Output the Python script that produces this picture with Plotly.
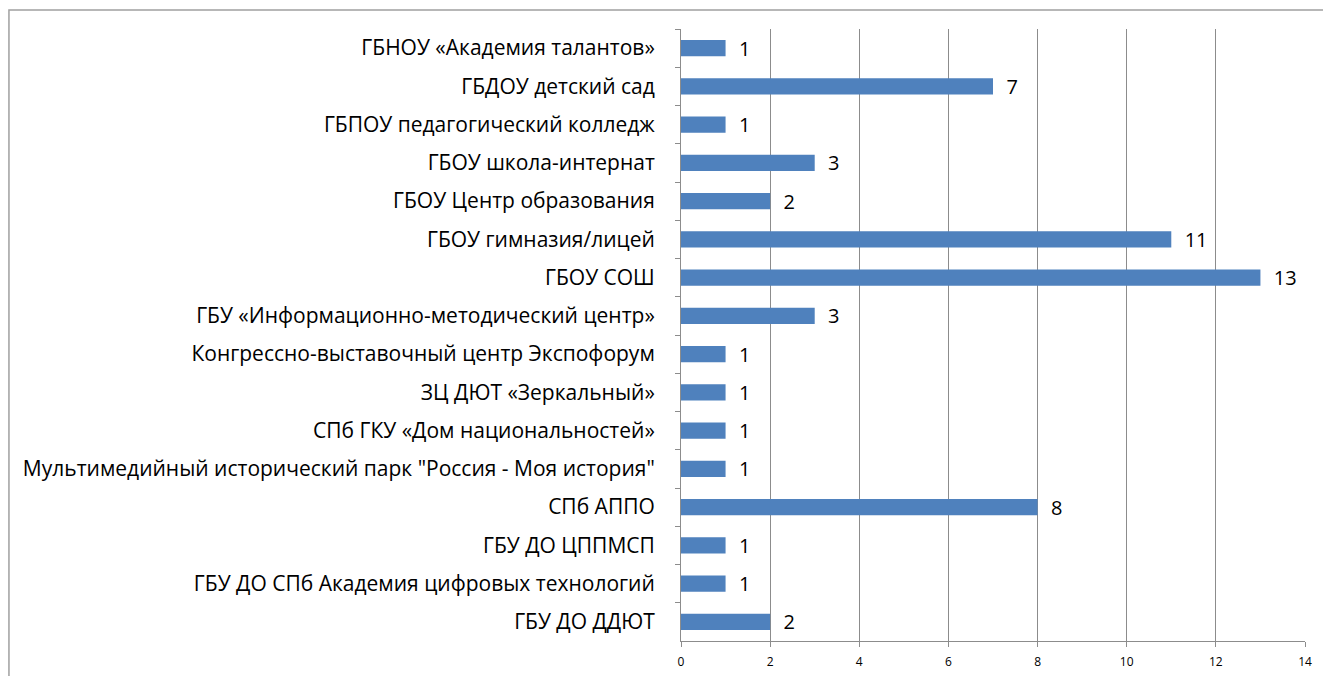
import plotly.graph_objects as go

categories = [
    "ГБНОУ «Академия талантов»",
    "ГБДОУ детский сад",
    "ГБПОУ педагогический колледж",
    "ГБОУ школа-интернат",
    "ГБОУ Центр образования",
    "ГБОУ гимназия/лицей",
    "ГБОУ СОШ",
    "ГБУ «Информационно-методический центр»",
    "Конгрессно-выставочный центр Экспофорум",
    "ЗЦ ДЮТ «Зеркальный»",
    "СПб ГКУ «Дом национальностей»",
    "Мультимедийный исторический парк \"Россия - Моя история\"",
    "СПб АППО",
    "ГБУ ДО ЦППМСП",
    "ГБУ ДО СПб Академия цифровых технологий",
    "ГБУ ДО ДДЮТ",
]
values = [1, 7, 1, 3, 2, 11, 13, 3, 1, 1, 1, 1, 8, 1, 1, 2]
x_ticks = [0, 2, 4, 6, 8, 10, 12, 14]

FONT = "'Open Sans', 'Noto Sans', sans-serif"

fig = go.Figure(go.Bar(
    y=categories,
    x=values,
    orientation="h",
    width=0.42,
    marker=dict(color="#4F81BD", line=dict(color="#4F81BD", width=0)),
    text=[f"\u00a0\u00a0{v}" for v in values],
    textposition="outside",
    constraintext="none",
    cliponaxis=False,
    textfont=dict(family=FONT, size=20, color="#000000"),
))

fig.update_layout(
    width=1323, height=668,
    margin=dict(l=673, r=26, t=21, b=35),
    paper_bgcolor="white",
    plot_bgcolor="white",
    showlegend=False,
    font=dict(family=FONT, color="#000000"),
    shapes=[dict(
        type="rect", xref="paper", yref="paper",
        x0=-1.077, x1=1.045, y0=-0.2, y1=1.031,
        line=dict(color="#A0A0A0", width=1.5), fillcolor="rgba(0,0,0,0)",
        layer="below",
    )],
)

fig.update_xaxes(
    range=[0, 14],
    tickvals=x_ticks,
    ticktext=[str(t) for t in x_ticks],
    showgrid=True, gridcolor="#8C8C8C", gridwidth=1,
    showline=True, linecolor="#8C8C8C", linewidth=1,
    ticks="outside", ticklen=5, tickcolor="#8C8C8C",
    ticklabelstandoff=5,
    tickfont=dict(family=FONT, size=12, color="#000000"),
    zeroline=False,
    automargin=False,
    fixedrange=True,
)
fig.update_yaxes(
    autorange="reversed",
    showline=True, linecolor="#8C8C8C", linewidth=1,
    ticks="outside", ticklen=5, tickcolor="#8C8C8C",
    tickson="boundaries",
    ticklabelstandoff=21,
    tickfont=dict(family=FONT, size=21, color="#000000"),
    showgrid=False,
    automargin=False,
)

fig.write_html("out.html")
